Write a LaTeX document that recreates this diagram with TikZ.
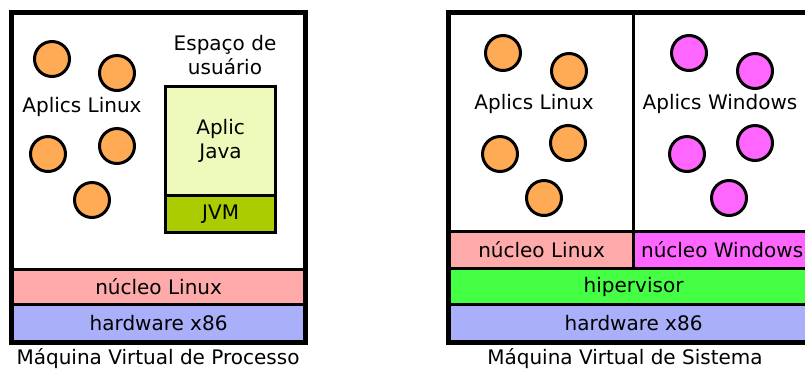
\documentclass[tikz,border=0pt]{standalone}
\usepackage{fontspec}
\setmainfont{DejaVu Sans}
\usepackage{tikz}
\usetikzlibrary{positioning}
\definecolor{appOrange}{HTML}{FFAA55}
\definecolor{appMagenta}{HTML}{FF66FF}
\definecolor{kernPink}{HTML}{FFAAAA}
\definecolor{hwBlue}{HTML}{AAAFFA}
\definecolor{hypGreen}{HTML}{44FF44}
\definecolor{javaLight}{HTML}{EEFABB}
\definecolor{jvmGreen}{HTML}{AACC00}
\tikzset{
  layer/.style={rectangle, draw, line width=3.2pt, inner sep=0pt, anchor=north west, align=center, font=\fontsize{20}{24}\selectfont},
  app/.style={circle, draw, line width=3pt, minimum size=35pt, inner sep=0pt},
  lbl/.style={align=center, font=\fontsize{20}{24}\selectfont},
  frame/.style={draw, line width=4pt},
}

\begin{document}
\begin{tikzpicture}[x=1pt, y=-1pt]
  \clip (0,0) rectangle (805,376);

  % Maquina virtual de processo
  \node[layer, fill=white, minimum width=292pt, minimum height=256pt] (userA) at (11,12) {};
  \node[layer, fill=kernPink, minimum width=292pt, minimum height=35pt] (kernA) at (11,268) {núcleo Linux};
  \node[layer, fill=hwBlue, minimum width=292pt, minimum height=37pt] (hwA) at (11,303) {hardware x86};
  \node[layer, fill=javaLight, minimum width=110pt, minimum height=109pt] (java) at (164,85) {Aplic\\Java};
  \node[layer, fill=jvmGreen, minimum width=110pt, minimum height=37pt] (jvm) at (164,194) {JVM};
  \node[lbl] (espaco) at (225,55) {Espaço de\\usuário};
  \node[lbl] (linA) at (82,107) {Aplics Linux};
  \node[app, fill=appOrange] (a1) at (52,59) {};
  \node[app, fill=appOrange] (a2) at (117,73) {};
  \node[app, fill=appOrange] (a3) at (48,154) {};
  \node[app, fill=appOrange] (a4) at (117,146) {};
  \node[app, fill=appOrange] (a5) at (92,200) {};
  \draw[frame] (userA.north west) rectangle (hwA.south east);
  \node[lbl] (capA) at (158,359) {Máquina Virtual de Processo};

  % Maquina virtual de sistema
  \node[layer, fill=white, minimum width=184pt, minimum height=218pt] (userL) at (448,12) {};
  \node[layer, fill=white, minimum width=184pt, minimum height=218pt] (userW) at (632,12) {};
  \node[layer, fill=kernPink, minimum width=184pt, minimum height=37pt] (kernL) at (448,230) {núcleo Linux};
  \node[layer, fill=appMagenta, minimum width=184pt, minimum height=37pt] (kernW) at (632,230) {núcleo Windows\hspace{7pt}};
  \node[layer, fill=hypGreen, minimum width=368pt, minimum height=36pt] (hyp) at (448,267) {hipervisor};
  \node[layer, fill=hwBlue, minimum width=368pt, minimum height=37pt] (hwB) at (448,303) {hardware x86};
  \node[lbl] (linB) at (534,104) {Aplics Linux};
  \node[lbl] (winB) at (720,104) {Aplics Windows};
  \node[app, fill=appOrange] (b1) at (503,53) {};
  \node[app, fill=appOrange] (b2) at (569,71) {};
  \node[app, fill=appOrange] (b3) at (500,154) {};
  \node[app, fill=appOrange] (b4) at (568,143) {};
  \node[app, fill=appOrange] (b5) at (544,198) {};
  \node[app, fill=appMagenta] (w1) at (689,53) {};
  \node[app, fill=appMagenta] (w2) at (755,71) {};
  \node[app, fill=appMagenta] (w3) at (687,154) {};
  \node[app, fill=appMagenta] (w4) at (755,143) {};
  \node[app, fill=appMagenta] (w5) at (729,198) {};
  \draw[frame] (userL.north west) rectangle (hwB.south east);
  \node[lbl] (capB) at (625,359) {Máquina Virtual de Sistema};
\end{tikzpicture}
\end{document}
